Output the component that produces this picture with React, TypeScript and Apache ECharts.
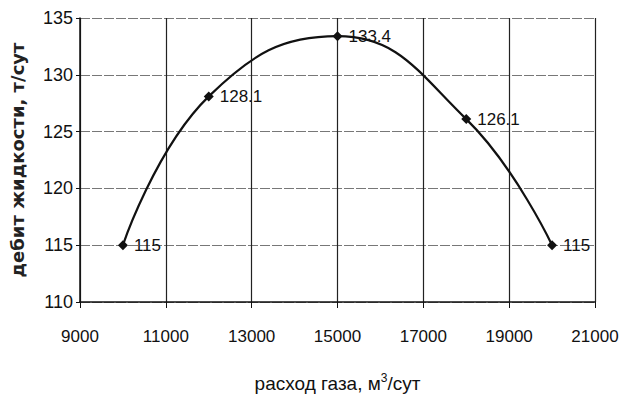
import React, { useEffect, useRef } from "react";
import * as echarts from "echarts";

const gasFlow = [10000, 12000, 15000, 18000, 20000];
const liquidRate = [115, 128.1, 133.4, 126.1, 115];
const xTitle = "расход газа, м{sup|3}/сут";
const yTitle = "дебит жидкости, т/сут";

const FONT = "'Liberation Sans', Arial, sans-serif";

export default function App() {
  const ref = useRef<HTMLDivElement>(null);
  useEffect(() => {
    const chart = echarts.init(ref.current!, undefined, { renderer: "svg" });
    chart.setOption({
      animation: false,
      backgroundColor: "#fff",
      grid: { left: 78, top: 18, right: 37, bottom: 101 },
      xAxis: {
        type: "value",
        min: 9000,
        max: 21000,
        interval: 2000,
        name: xTitle,
        nameLocation: "middle",
        nameGap: 70,
        nameTextStyle: {
          fontFamily: FONT,
          fontSize: 19,
          color: "#111",
          rich: { sup: { fontSize: 12, verticalAlign: "top", padding: [0, 0, 10, 0], fontFamily: FONT, color: "#111" } },
        },
        axisLine: { lineStyle: { color: "#111", width: 1.5 } },
        axisTick: { show: true, length: 6, lineStyle: { color: "#111" } },
        axisLabel: { fontFamily: FONT, fontSize: 17, color: "#111", margin: 26, formatter: (v: number) => String(v) },
        splitLine: { show: true, lineStyle: { color: "#222", width: 1.2 } },
      },
      yAxis: {
        type: "value",
        min: 110,
        max: 135,
        interval: 5,
        name: yTitle,
        nameLocation: "middle",
        nameRotate: 90,
        nameGap: 54,
        nameTextStyle: {
          fontFamily: "'DejaVu Sans', sans-serif",
          fontWeight: "bold",
          fontSize: 18,
          color: "#222",
        },
        axisLine: { show: true, lineStyle: { color: "#111", width: 1.5 } },
        axisTick: { show: true, length: 4, lineStyle: { color: "#111" } },
        axisLabel: { fontFamily: FONT, fontSize: 18, color: "#111", margin: 7 },
        splitLine: { show: true, lineStyle: { color: "#777", width: 1, type: [10, 2] } },
      },
      series: [
        {
          type: "line",
          data: gasFlow.map((x, i) => [x, liquidRate[i]]),
          smooth: 0.45,
          symbol: "diamond",
          symbolSize: 10,
          itemStyle: { color: "#111" },
          lineStyle: { color: "#111", width: 2.2 },
          label: {
            show: true,
            position: "right",
            distance: 6,
            fontFamily: FONT,
            fontSize: 17,
            color: "#111",
            formatter: (p: any) => String(p.value[1]),
          },
        },
      ],
    });
    return () => chart.dispose();
  }, []);
  return <div ref={ref} style={{ width: 632, height: 403, position: "absolute", left: 0, top: 0 }} />;
}
